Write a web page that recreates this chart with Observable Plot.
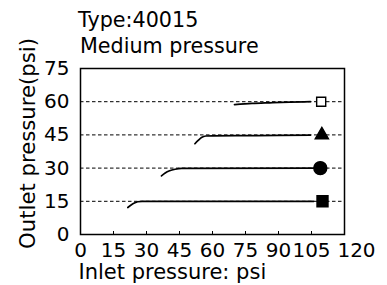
<!DOCTYPE html>
<html>
<head>
<meta charset="utf-8">
<script src="https://cdn.jsdelivr.net/npm/d3@7"></script>
<script src="https://cdn.jsdelivr.net/npm/@observablehq/plot@0.6"></script>
<style>
  html, body { margin: 0; padding: 0; background: #fff; }
  #wrap { position: relative; width: 387px; height: 285px; padding-top: 60px; box-sizing: border-box; font-family: "DejaVu Sans", sans-serif; color: #000; }
  .ttl { position: absolute; font-size: 20.7px; line-height: 20.7px; white-space: nowrap; }
  svg { display: block; }
</style>
</head>
<body>
<div id="wrap">
  <div class="ttl" id="title" style="left:78px;top:10px;"></div>
  <div class="ttl" id="subtitle" style="left:80px;top:36px;"></div>
</div>
<script>
// ---- text ----
const titleText = "Type:40015";
const subtitleText = "Medium pressure";
const xLabel = "Inlet pressure: psi";
const yLabel = "Outlet pressure(psi)";

// ---- axes ----
const xTicks = [0, 15, 30, 45, 60, 75, 90, 105, 120];
const yTicks = [0, 15, 30, 45, 60, 75];

// ---- curves ----
const inlet15  = [21.5, 23, 24.5, 26, 28, 106];
const outlet15 = [12.2, 13.3, 14.2, 14.8, 15, 15];
const inlet30  = [36.8, 38.5, 40.5, 43, 46, 106];
const outlet30 = [26.5, 27.8, 28.8, 29.5, 29.9, 30];
const inlet45  = [52, 53.5, 55, 57, 60, 80, 104.5];
const outlet45 = [41, 42.5, 43.8, 44.5, 44.6, 44.7, 44.9];
const inlet60  = [70, 78, 86, 95, 104.5];
const outlet60 = [58.7, 59.2, 59.5, 59.8, 60];

// ---- markers ----
const markerSeries = ["15", "30", "45", "60"];
const markerInlet  = [110, 109, 109.7, 109.4];
const markerOutlet = [15, 30, 45, 60];
const markerShape  = ["square", "circle", "triangle", "square"];
const markerFilled = [true, true, true, false];

document.getElementById("title").textContent = titleText;
document.getElementById("subtitle").textContent = subtitleText;

const curves = [
  ["15", inlet15, outlet15],
  ["30", inlet30, outlet30],
  ["45", inlet45, outlet45],
  ["60", inlet60, outlet60]
].flatMap(([s, xs, ys]) => xs.map((x, i) => ({series: s, inlet: x, outlet: ys[i]})));

const markers = markerSeries.map((s, i) => ({
  series: s, inlet: markerInlet[i], outlet: markerOutlet[i],
  shape: markerShape[i], filled: markerFilled[i]
}));

const sizeOf = d => d.shape === "circle" ? 6.5 : d.shape === "triangle" ? 4.9 : (d.filled ? 6.2 : 5.1);

const xMax = xTicks[xTicks.length - 1];
const yMax = yTicks[yTicks.length - 1];
const gridVals = yTicks.filter(v => v > 0 && v < yMax);

const fontSize = 20;

const chart = Plot.plot({
  width: 387,
  height: 225,
  marginTop: 8,
  marginBottom: 51,
  marginLeft: 80,
  marginRight: 43,
  style: {fontFamily: "DejaVu Sans, sans-serif", fontSize: fontSize + "px", background: "#fff", color: "#000", overflow: "visible"},
  x: {domain: [0, xMax], label: null},
  y: {domain: [0, yMax], label: null},
  r: {type: "identity"},
  symbol: {type: "identity"},
  marks: [
    Plot.gridY(gridVals, {stroke: "#000", strokeOpacity: 1, strokeWidth: 1, strokeDasharray: "3.5,2.5"}),
    Plot.axisY(yTicks, {tickSize: 0, tickPadding: 11, fontSize: fontSize, label: null}),
    Plot.axisX(xTicks.filter(v => v < xMax), {tickSize: -3, tickPadding: 11, fontSize: fontSize, label: null}),
    Plot.axisX([xMax], {tickSize: 0, tickPadding: 8, fontSize: fontSize, label: null, dx: 12}),
    Plot.line(curves, {x: "inlet", y: "outlet", z: "series", stroke: "#000", strokeWidth: 1.7, curve: "monotone-x"}),
    Plot.dot(markers, {x: "inlet", y: "outlet", symbol: "shape", r: sizeOf,
      fill: d => d.filled ? "#000" : "#fff", stroke: "#000", strokeWidth: 1.4}),
    Plot.frame({stroke: "#000", strokeWidth: 1.5}),
    Plot.text([xLabel], {frameAnchor: "bottom-left", textAnchor: "start", lineAnchor: "middle", dx: -2, dy: 38, fontSize: 21, fill: "#000"}),
    Plot.text([yLabel], {frameAnchor: "left", textAnchor: "middle", lineAnchor: "middle", rotate: -90, dx: -52, dy: -8, fontSize: 21.2, fill: "#000"})
  ]
});

document.getElementById("wrap").appendChild(chart);
</script>
</body>
</html>
